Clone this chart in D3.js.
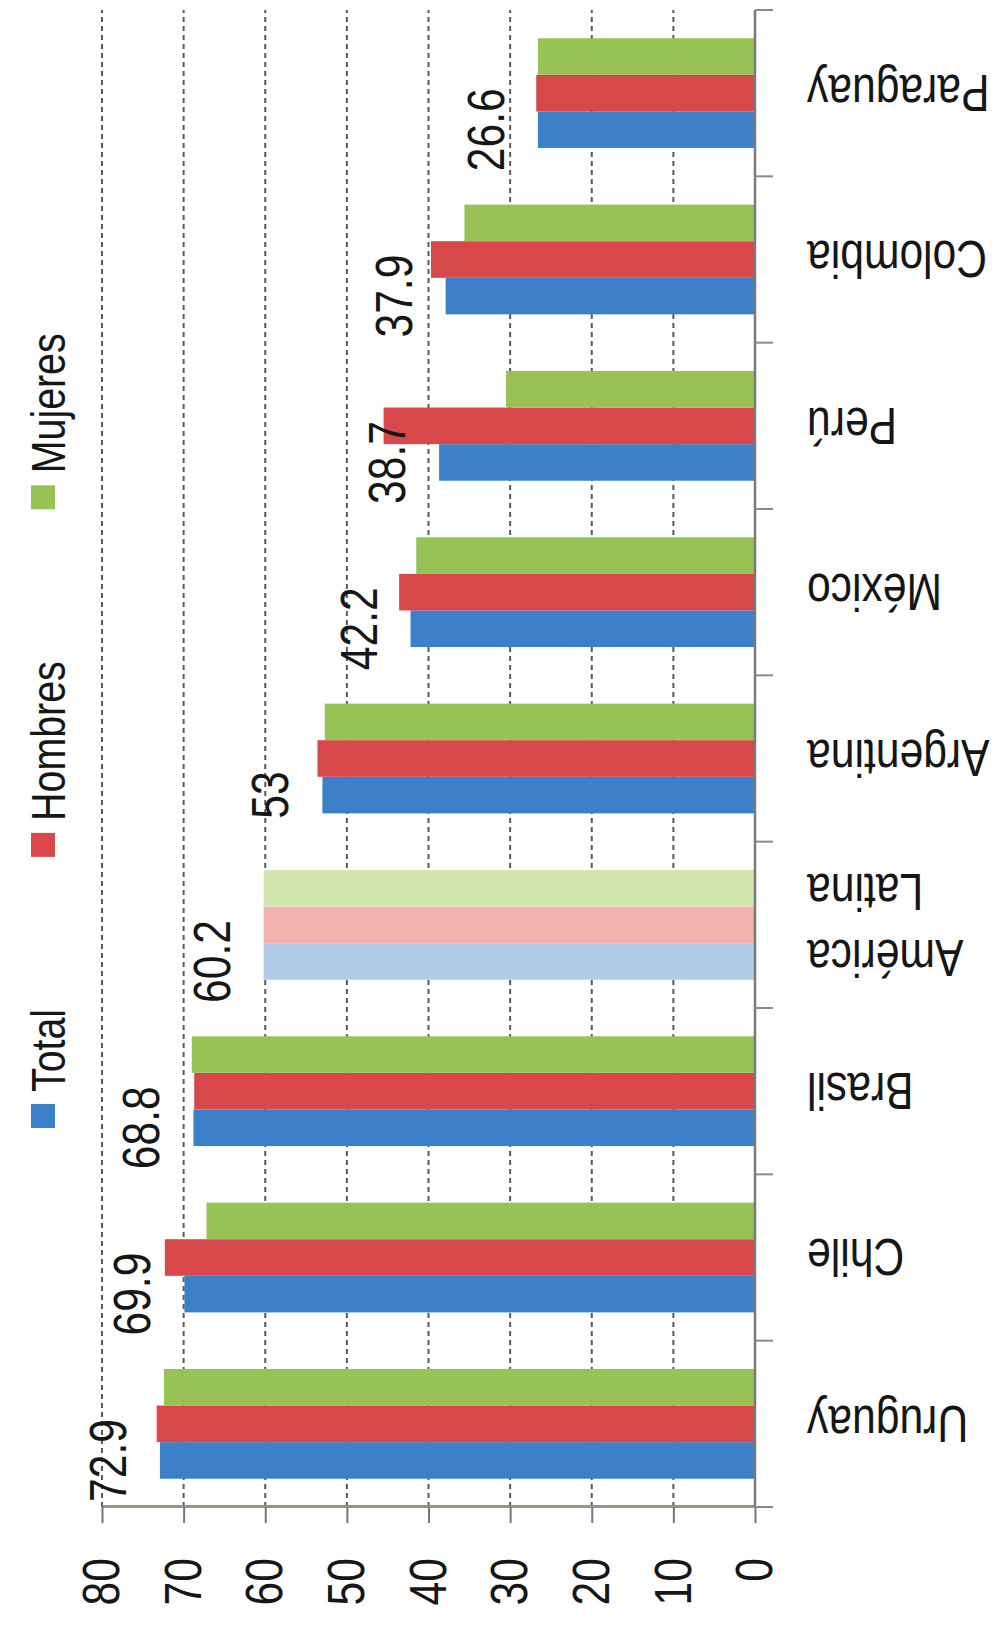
<!DOCTYPE html>
<html>
<head>
<meta charset="utf-8">
<script src="https://cdnjs.cloudflare.com/ajax/libs/d3/7.8.5/d3.min.js"></script>
<style>
  html, body { margin: 0; padding: 0; background: #fff; }
  svg { display: block; }
</style>
</head>
<body>
<script>
/*global d3 */

// chart values (percent)
var categories = ["Uruguay", "Chile", "Brasil", "América Latina", "Argentina", "México", "Perú", "Colombia", "Paraguay"];
var series = ["Total", "Hombres", "Mujeres"];
var total   = [72.9, 69.9, 68.8, 60.2, 53, 42.2, 38.7, 37.9, 26.6];
var hombres = [73.3, 72.3, 68.7, 60.2, 53.6, 43.6, 45.5, 39.7, 26.8];
var mujeres = [72.4, 67.2, 69.0, 60.2, 52.7, 41.5, 30.5, 35.6, 26.6];
var yTicks = [0, 10, 20, 30, 40, 50, 60, 70, 80];
var highlight = "América Latina";

var colors = {Total: "#3b80c9", Hombres: "#d8474a", Mujeres: "#98c255"};
var lightColors = {Total: "#b2cbe9", Hombres: "#f2b2b0", Mujeres: "#d2e6b0"};

var W = 1000, H = 1628;
var FONT = "'Liberation Sans', Arial, sans-serif";
var NARROW = "scale(0.82,1)"; // the source font is a narrow sans

var rows = categories.map(function(c, i){
    return {cat: c, values: {Total: total[i], Hombres: hombres[i], Mujeres: mujeres[i]}};
});

var svg = d3.select("body").append("svg")
    .attr("width", W)
    .attr("height", H);

svg.append("rect").attr("width", W).attr("height", H).attr("fill", "#fff");

// the whole chart is laid out as a normal column chart, then turned a quarter turn
var g = svg.append("g")
    .attr("transform", "translate(0," + H + ") rotate(-90)");

var x0 = d3.scaleBand().domain(categories).range([121, 1618])
    .paddingInner(0.34).paddingOuter(0.17);
var x1 = d3.scaleBand().domain(series).range([0, x0.bandwidth()]);
var y = d3.scaleLinear().domain([0, 80]).range([755, 102]);

// dashed grid
g.append("g").attr("class", "grid")
  .selectAll("line")
  .data(yTicks.filter(function(d){ return d > 0; }))
  .join("line")
    .attr("x1", 121).attr("x2", 1618)
    .attr("y1", function(d){ return y(d); })
    .attr("y2", function(d){ return y(d); })
    .attr("stroke", "#5a5a5a")
    .attr("stroke-width", 2)
    .attr("stroke-dasharray", "5,4");

// value axis
var yAxis = g.append("g")
    .attr("transform", "translate(121,0)")
    .call(d3.axisLeft(y).tickValues(yTicks).tickSize(16).tickSizeOuter(0).tickPadding(35))
    .attr("font-family", FONT)
    .attr("font-size", 52);
yAxis.select(".domain").attr("stroke", "#9b9384").attr("stroke-width", 3);
yAxis.selectAll(".tick line").attr("stroke", "#777").attr("stroke-width", 2);
yAxis.selectAll(".tick text")
    .attr("fill", "#161616")
    .attr("transform", function(){
        return "translate(" + d3.select(this).attr("x") + ",0) " + NARROW;
    })
    .attr("x", 0);

// bars
var groups = g.append("g").attr("class", "bars")
  .selectAll("g")
  .data(rows)
  .join("g")
    .attr("transform", function(d){ return "translate(" + x0(d.cat) + ",0)"; });

groups.selectAll("rect")
  .data(function(d){
      return series.map(function(s){ return {cat: d.cat, key: s, value: d.values[s]}; });
  })
  .join("rect")
    .attr("x", function(d){ return x1(d.key); })
    .attr("width", x1.bandwidth())
    .attr("y", function(d){ return y(d.value); })
    .attr("height", function(d){ return y(0) - y(d.value); })
    .attr("fill", function(d){
        return d.cat === highlight ? lightColors[d.key] : colors[d.key];
    });

// category axis with ticks between the groups
var step = x0.step();
var bounds = categories.map(function(c){ return x0(c) - step * x0.paddingInner() / 2; })
    .concat([x0.range()[1]]);

var xAxis = g.append("g").attr("class", "axis axis--x");
xAxis.append("line")
    .attr("x1", x0.range()[0]).attr("x2", x0.range()[1])
    .attr("y1", y(0)).attr("y2", y(0))
    .attr("stroke", "#7a7a7a").attr("stroke-width", 2.5);
xAxis.selectAll("line.tick")
  .data(bounds)
  .join("line")
    .attr("class", "tick")
    .attr("x1", function(d){ return d; }).attr("x2", function(d){ return d; })
    .attr("y1", y(0)).attr("y2", y(0) + 18)
    .attr("stroke", "#8a8a8a").attr("stroke-width", 2);

var catLabels = xAxis.selectAll("text")
  .data(categories)
  .join("text")
    .attr("transform", function(d){
        return "translate(" + (x0(d) + x0.bandwidth() / 2) + "," + (y(0) + 52) + ") rotate(-90) " + NARROW;
    })
    .attr("text-anchor", "end")
    .attr("font-family", FONT)
    .attr("font-size", 52)
    .attr("fill", "#161616");

catLabels.selectAll("tspan")
  .data(function(d){
      var parts = d.split(" ");
      return parts.map(function(p, i){ return {text: p, i: i, n: parts.length}; });
  })
  .join("tspan")
    .attr("x", 0)
    .attr("dy", function(d){
        if (d.i === 0) return (0.35 - (d.n - 1) * 0.635) + "em";
        return "1.27em";
    })
    .text(function(d){ return d.text; });

// value labels above the Total bars
g.append("g").attr("class", "labels")
  .selectAll("text")
  .data(rows)
  .join("text")
    .attr("transform", function(d){
        var cx = x0(d.cat) + x1("Total") + x1.bandwidth() / 2;
        return "translate(" + cx + "," + (y(d.values.Total) - 34) + ") " + NARROW;
    })
    .attr("text-anchor", "middle")
    .attr("font-family", FONT)
    .attr("font-size", 52)
    .attr("fill", "#161616")
    .text(function(d){ return String(d.values.Total); });

// legend
var legend = g.append("g").attr("class", "legend")
    .attr("font-family", FONT)
    .attr("font-size", 48);

var lx = 500;
series.forEach(function(s){
    var item = legend.append("g").attr("transform", "translate(" + lx + ",0)");
    item.append("rect")
        .attr("x", 0).attr("y", 31)
        .attr("width", 24).attr("height", 24)
        .attr("fill", colors[s]);
    var t = item.append("text")
        .attr("transform", "translate(36,65) " + NARROW)
        .attr("fill", "#161616")
        .text(s);
    lx += 36 + t.node().getComputedTextLength() * 0.82 + 152;
});
</script>
</body>
</html>
